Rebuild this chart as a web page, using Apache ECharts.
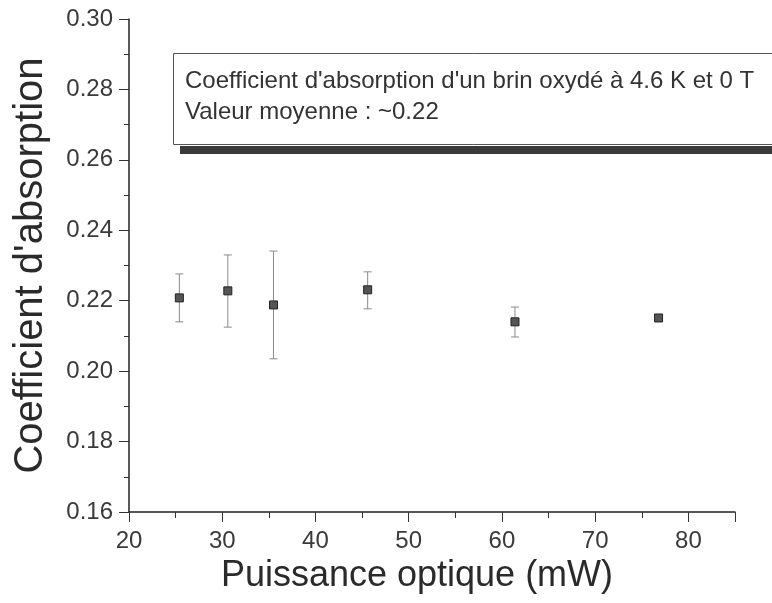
<!DOCTYPE html>
<html>
<head>
<meta charset="utf-8">
<script src="https://cdn.jsdelivr.net/npm/echarts@6/dist/echarts.min.js"></script>
<style>
  html, body { margin: 0; padding: 0; background: #fff; }
  #chart { width: 772px; height: 603px; }
</style>
</head>
<body>
<div id="chart"></div>
<script>
// puissance optique (mW)
const puissance = [25.4, 30.6, 35.5, 45.6, 61.4, 76.8]
// coefficient d'absorption
const coeff = [0.2208, 0.2228, 0.2188, 0.2231, 0.2140, 0.2151]
// barres d'erreur (bas / haut), null = pas de barre
const errBas = [0.2140, 0.2125, 0.2035, 0.2177, 0.2097, null]
const errHaut = [0.2276, 0.2330, 0.2341, 0.2282, 0.2182, null]
const yTicks = ['0.16', '0.18', '0.20', '0.22', '0.24', '0.26', '0.28', '0.30']
const xTicks = ['20', '30', '40', '50', '60', '70', '80']

const police = 'Liberation Sans, Arial, sans-serif'
const chart = echarts.init(document.getElementById('chart'))

const points = puissance.map((x, i) => [x, coeff[i]])
const barres = puissance.map((x, i) => [x, errBas[i], errHaut[i]]).filter(d => d[1] !== null)

const option = {
  animation: false,
  backgroundColor: '#fff',
  grid: { left: 129, top: 19, right: 37, bottom: 91, containLabel: false, outerBoundsMode: 'none' },
  xAxis: {
    type: 'value',
    min: 20,
    max: 85,
    interval: 10,
    name: 'Puissance optique (mW)',
    nameLocation: 'middle',
    nameGap: 46,
    nameTextStyle: { fontFamily: police, fontSize: 36, color: '#2a2a2a', padding: [0, 30, 0, 0] },
    axisLine: { show: true, lineStyle: { color: '#222', width: 1.5 } },
    axisTick: { show: true, inside: false, length: 10, lineStyle: { color: '#333' } },
    minorTick: { show: true, splitNumber: 2, length: 6, lineStyle: { color: '#333' } },
    splitLine: { show: false },
    axisLabel: {
      fontFamily: police, fontSize: 24, color: '#3a3a3a', margin: 17,
      formatter: v => xTicks.includes(String(v)) ? String(v) : ''
    }
  },
  yAxis: {
    type: 'value',
    min: 0.16,
    max: 0.30,
    interval: 0.02,
    name: "Coefficient d'absorption",
    nameLocation: 'middle',
    nameGap: 78,
    nameTextStyle: { fontFamily: police, fontSize: 40, color: '#2a2a2a' },
    axisLine: { show: true, lineStyle: { color: '#222', width: 1.5 } },
    axisTick: { show: true, inside: false, length: 10, lineStyle: { color: '#333' } },
    minorTick: { show: true, splitNumber: 2, length: 5, lineStyle: { color: '#333' } },
    splitLine: { show: false },
    axisLabel: {
      fontFamily: police, fontSize: 24, color: '#3a3a3a', margin: 16,
      formatter: v => yTicks[Math.round((v - 0.16) / 0.02)]
    }
  },
  series: [
    {
      type: 'custom',
      name: 'erreur',
      data: barres,
      z: 1,
      renderItem: function (params, api) {
        const x = api.value(0)
        const bas = api.coord([x, api.value(1)])
        const haut = api.coord([x, api.value(2)])
        const w = 4
        const st = { stroke: '#8a8a8a', lineWidth: 1 }
        return {
          type: 'group',
          children: [
            { type: 'line', shape: { x1: bas[0], y1: bas[1], x2: haut[0], y2: haut[1] }, style: st },
            { type: 'line', shape: { x1: haut[0] - w, y1: haut[1], x2: haut[0] + w, y2: haut[1] }, style: st },
            { type: 'line', shape: { x1: bas[0] - w, y1: bas[1], x2: bas[0] + w, y2: bas[1] }, style: st }
          ]
        }
      }
    },
    {
      type: 'scatter',
      name: 'coefficient',
      data: points,
      symbol: 'rect',
      symbolSize: 8,
      z: 2,
      itemStyle: { color: '#555', borderColor: '#222', borderWidth: 1, opacity: 1 }
    }
  ],
  graphic: [
    {
      type: 'rect',
      left: 180,
      top: 146,
      shape: { width: 600, height: 8 },
      style: { fill: '#3a3a3a' },
      z: 10
    },
    {
      type: 'rect',
      left: 173,
      top: 53,
      shape: { width: 620, height: 91 },
      style: { fill: '#fff', stroke: '#555', lineWidth: 1 },
      z: 11
    },
    {
      type: 'text',
      left: 185,
      top: 66,
      style: {
        text: "Coefficient d'absorption d'un brin oxydé à 4.6 K et 0 T\nValeur moyenne : ~0.22",
        fontFamily: police,
        fontSize: 24,
        lineHeight: 31,
        fill: '#333'
      },
      z: 12
    }
  ]
}

chart.setOption(option)
</script>
</body>
</html>
